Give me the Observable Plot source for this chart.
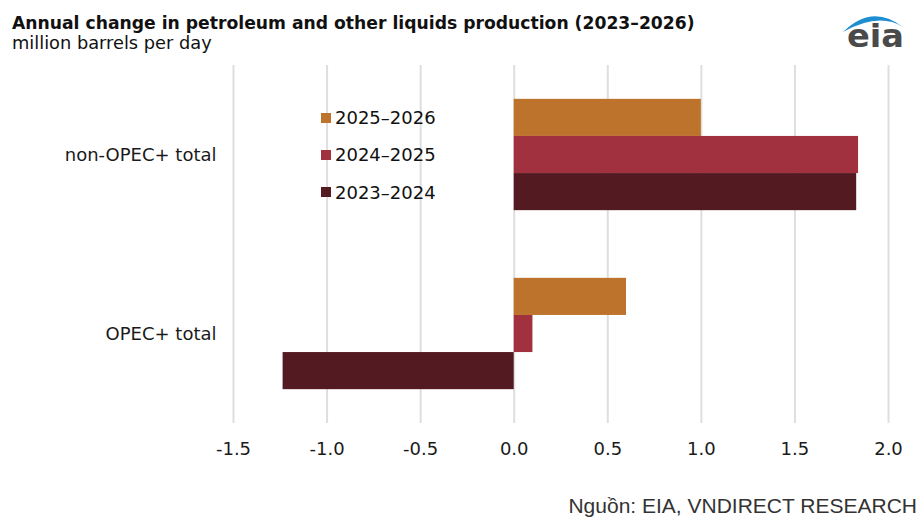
<!DOCTYPE html>
<html>
<head>
<meta charset="utf-8">
<script src="https://cdn.jsdelivr.net/npm/d3@7"></script>
<script src="https://cdn.jsdelivr.net/npm/@observablehq/plot@0.6"></script>
<style>
  html, body { margin: 0; padding: 0; background: #fff; }
  #wrap { position: relative; width: 920px; height: 518px; overflow: hidden; font-family: "DejaVu Sans", sans-serif; color: #1a1a1a; }
  #title { position: absolute; left: 12px; top: 14px; font-size: 17.2px; line-height: 18px; font-weight: bold; white-space: nowrap; color: #111; }
  #subtitle { position: absolute; left: 12px; top: 34px; font-size: 17.8px; line-height: 18px; white-space: nowrap; color: #111; }
  #chart { position: absolute; left: 0; top: 0; }
  #legend { position: absolute; left: 0; top: 0; }
  .lg-row { position: absolute; white-space: nowrap; font-size: 18px; line-height: 18px; color: #111; }
  .lg-sw { position: absolute; width: 10px; height: 10px; }
  #caption { position: absolute; right: 3px; top: 495px; font-family: "Liberation Sans", Arial, sans-serif; font-size: 21px; line-height: 21px; color: #333; white-space: nowrap; }
  #logo { position: absolute; left: 835px; top: 0px; }
</style>
</head>
<body>
<div id="wrap">
  <div id="chart"></div>
  <div id="title"></div>
  <div id="subtitle"></div>
  <div id="legend"></div>
  <svg id="logo" width="80" height="56" viewBox="835 0 80 56">
    <path d="M843,32 Q872,3 903,27 Q879,12 843,32 Z" fill="#1f8ed1"/>
    <text x="847" y="47" font-family="DejaVu Sans" font-weight="bold" font-size="32" fill="#4a4a4a" textLength="57" lengthAdjust="spacingAndGlyphs">eia</text>
  </svg>
  <div id="caption"></div>
</div>
<script>
// ---- Data ----
const titleText = "Annual change in petroleum and other liquids production (2023–2026)";
const subtitleText = "million barrels per day";
const captionText = "Nguồn: EIA, VNDIRECT RESEARCH";

const categories = ["non-OPEC+ total", "OPEC+ total"];
const series = ["2025–2026", "2024–2025", "2023–2024"];
const values2025_2026 = [1.0, 0.6];
const values2024_2025 = [1.84, 0.1];
const values2023_2024 = [1.83, -1.235];
const seriesColors = ["#bd732b", "#a2313f", "#531a21"];
const xTicks = [-1.5, -1.0, -0.5, 0.0, 0.5, 1.0, 1.5, 2.0];

// ---- Table built from the arrays ----
const seriesValues = [values2025_2026, values2024_2025, values2023_2024];
const table = [];
categories.forEach((c, i) => {
  series.forEach((s, j) => {
    table.push({category: c, series: s, value: seriesValues[j][i]});
  });
});

document.getElementById("title").textContent = titleText;
document.getElementById("subtitle").textContent = subtitleText;
document.getElementById("caption").textContent = captionText;

const chart = Plot.plot({
  width: 920,
  height: 470,
  marginTop: 65,
  marginBottom: 47,
  marginLeft: 233,
  marginRight: 32,
  style: {fontFamily: "DejaVu Sans, sans-serif", fontSize: "18px", color: "#1a1a1a", background: "transparent"},
  facet: {data: table, y: "category"},
  fy: {domain: categories, padding: 0, round: false, axis: "left", tickSize: 0, tickPadding: 17, label: null},
  y: {domain: series, paddingInner: 0, paddingOuter: 0.912, round: false, axis: null},
  x: {domain: [xTicks[0], xTicks[xTicks.length - 1]], ticks: xTicks, tickFormat: d => d.toFixed(1), tickSize: 0, tickPadding: 19, label: null},
  color: {domain: series, range: seriesColors},
  marks: [
    Plot.ruleX(xTicks, {stroke: "#dedede", strokeWidth: 2}),
    Plot.barX(table, {x: "value", y: "series", fill: "series", inset: 0})
  ]
});
document.getElementById("chart").appendChild(chart);

// ---- Legend (HTML, rows aligned to the non-OPEC+ bars) ----
const legend = document.getElementById("legend");
const rowCenters = [117.5, 155, 192.3];
series.forEach((s, j) => {
  const sw = document.createElement("div");
  sw.className = "lg-sw";
  sw.style.left = "321px";
  sw.style.top = (rowCenters[j] - 5) + "px";
  sw.style.background = seriesColors[j];
  legend.appendChild(sw);
  const t = document.createElement("div");
  t.className = "lg-row";
  t.style.left = "335px";
  t.style.top = (rowCenters[j] - 8.7) + "px";
  t.textContent = s;
  legend.appendChild(t);
});
</script>
</body>
</html>
